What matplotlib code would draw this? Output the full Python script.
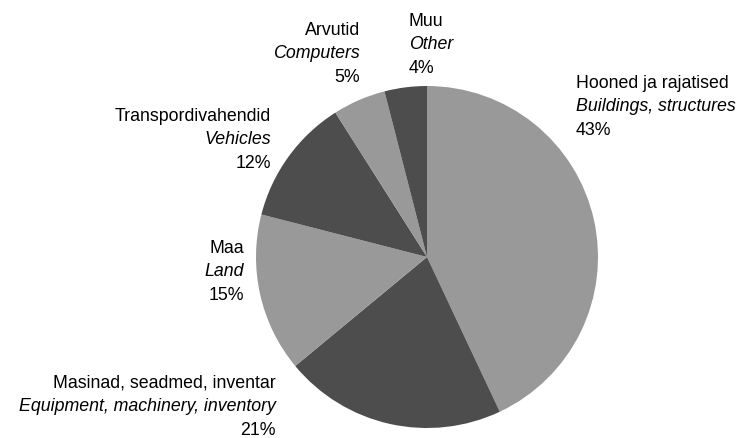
import matplotlib
matplotlib.use("Agg")
import matplotlib.pyplot as plt

# Fixed asset structure shares (%)
names_et = ["Hooned ja rajatised", "Masinad, seadmed, inventar", "Maa",
            "Transpordivahendid", "Arvutid", "Muu"]
names_en = ["Buildings, structures", "Equipment, machinery, inventory", "Land",
            "Vehicles", "Computers", "Other"]
shares = [43, 21, 15, 12, 5, 4]

LIGHT = "#999999"
DARK = "#4d4d4d"
slice_colors = [LIGHT, DARK, LIGHT, DARK, LIGHT, DARK]

W, H = 738, 438
fig = plt.figure(figsize=(W / 100, H / 100), dpi=100)
fig.patch.set_facecolor("white")

# pie placed in pixel units: centre (427, 257), radius 171
cx, cy, r = 427, 257, 171
ax = fig.add_axes([(cx - r) / W, (H - cy - r) / H, 2 * r / W, 2 * r / H])
ax.pie(shares, colors=slice_colors, startangle=90, counterclock=False,
       radius=1.0, wedgeprops=dict(linewidth=0))
ax.set_xlim(-1, 1)
ax.set_ylim(-1, 1)
ax.set_aspect("equal")
ax.axis("off")

FONT = "Liberation Sans"
FS = 12.8
STEP = 23.3

# label anchor (x, first baseline y, alignment) in pixels from top-left
anchors = [
    (576, 88, "left"),
    (276, 388, "right"),
    (244, 253, "right"),
    (271, 121, "right"),
    (360, 35, "right"),
    (409, 26, "left"),
]

for et, en, val, (x, y0, ha) in zip(names_et, names_en, shares, anchors):
    lines = [(et, "normal"), (en, "italic"), (f"{val}%", "normal")]
    for i, (txt, style) in enumerate(lines):
        y = y0 + i * STEP
        fig.text(x / W, 1 - y / H, txt, ha=ha, va="baseline",
                 fontsize=FS, fontfamily=FONT, fontstyle=style, color="black")

fig.savefig("out.png", dpi=100, facecolor="white")
